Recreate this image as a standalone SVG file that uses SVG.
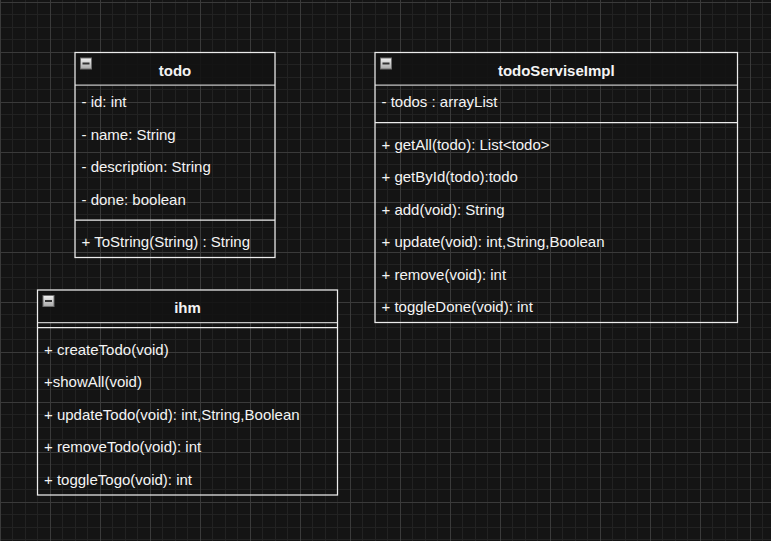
<svg xmlns="http://www.w3.org/2000/svg" width="771" height="541" viewBox="0 0 771 541">
  <defs>
    <!-- dark canvas grid: minor every 12.5px, major every 50px -->
    <pattern id="grid" patternUnits="userSpaceOnUse" x="0" y="2" width="50" height="50">
      <rect width="50" height="50" fill="#141414"/>
      <g fill="#222222">
        <rect x="12" y="0" width="1" height="50"/>
        <rect x="25" y="0" width="1" height="50"/>
        <rect x="37" y="0" width="1" height="50"/>
        <rect x="0" y="12" width="50" height="1"/>
        <rect x="0" y="25" width="50" height="1"/>
        <rect x="0" y="37" width="50" height="1"/>
      </g>
      <g fill="#3a3a3a">
        <rect x="0" y="0" width="1" height="50"/>
        <rect x="0" y="0" width="50" height="1"/>
      </g>
    </pattern>
    <linearGradient id="iconFill" x1="0" y1="0" x2="0" y2="1">
      <stop offset="0" stop-color="#f2f2f2"/>
      <stop offset="1" stop-color="#a8a8a8"/>
    </linearGradient>
    <!-- collapse toggle shown in each class header -->
    <g id="collapse">
      <rect x="0.5" y="0.5" width="11" height="11" fill="url(#iconFill)" stroke="#6e6e6e" stroke-width="1"/>
      <rect x="2.5" y="5" width="7" height="2" fill="#333333"/>
    </g>
  </defs>
  <style>
    .box { fill: none; stroke: #ececec; stroke-width: 1.25; }
    .head { fill: #121212; fill-opacity: 0.85; }
    .hline { stroke: #c4c4c4; stroke-width: 1.25; }
    .sep { stroke: #ececec; stroke-width: 1.25; }
    .title { font-family: "Liberation Sans", Arial, sans-serif; font-size: 15px; font-weight: bold; fill: #f4f4f4; text-anchor: middle; }
    .row { font-family: "Liberation Sans", Arial, sans-serif; font-size: 15px; fill: #f4f4f4; }
  </style>

  <rect width="771" height="541" fill="url(#grid)"/>

  <!-- class: todo -->
  <g id="todo">
    <rect class="head" x="75" y="52.5" width="200" height="32.5"/>
    <line class="hline" x1="75" y1="85" x2="275" y2="85"/>
    <line class="sep" x1="75" y1="220" x2="275" y2="220"/>
    <rect class="box" x="75" y="52.5" width="200" height="205"/>
    <use href="#collapse" x="80" y="57.5"/>
    <text class="title" x="175" y="75.5">todo</text>
    <text class="row" x="81.5" y="107">- id: int</text>
    <text class="row" x="81.5" y="139.5">- name: String</text>
    <text class="row" x="81.5" y="172">- description: String</text>
    <text class="row" x="81.5" y="204.5">- done: boolean</text>
    <text class="row" x="81.5" y="247">+ ToString(String) : String</text>
  </g>

  <!-- class: todoServiseImpl -->
  <g id="todoServiseImpl">
    <rect class="head" x="375" y="52.5" width="362.5" height="32.5"/>
    <line class="hline" x1="375" y1="85" x2="737.5" y2="85"/>
    <line class="sep" x1="375" y1="122.5" x2="737.5" y2="122.5"/>
    <rect class="box" x="375" y="52.5" width="362.5" height="270"/>
    <use href="#collapse" x="380" y="57.5"/>
    <text class="title" x="556.25" y="75.5">todoServiseImpl</text>
    <text class="row" x="381.5" y="107">- todos : arrayList</text>
    <text class="row" x="381.5" y="149.5">+ getAll(todo): List&lt;todo&gt;</text>
    <text class="row" x="381.5" y="182">+ getById(todo):todo</text>
    <text class="row" x="381.5" y="214.5">+ add(void): String</text>
    <text class="row" x="381.5" y="247">+ update(void): int,String,Boolean</text>
    <text class="row" x="381.5" y="279.5">+ remove(void): int</text>
    <text class="row" x="381.5" y="312">+ toggleDone(void): int</text>
  </g>

  <!-- class: ihm -->
  <g id="ihm">
    <rect class="head" x="37.5" y="290" width="300" height="32.5"/>
    <line class="hline" x1="37.5" y1="322.5" x2="337.5" y2="322.5"/>
    <line class="sep" x1="37.5" y1="327.5" x2="337.5" y2="327.5"/>
    <rect class="box" x="37.5" y="290" width="300" height="205"/>
    <use href="#collapse" x="42.5" y="295"/>
    <text class="title" x="187.5" y="313">ihm</text>
    <text class="row" x="44" y="354.5">+ createTodo(void)</text>
    <text class="row" x="44" y="387">+showAll(void)</text>
    <text class="row" x="44" y="419.5">+ updateTodo(void): int,String,Boolean</text>
    <text class="row" x="44" y="452">+ removeTodo(void): int</text>
    <text class="row" x="44" y="484.5">+ toggleTogo(void): int</text>
  </g>

  <!-- no associations are drawn between the classes -->
  <g id="connectors"/>
</svg>
